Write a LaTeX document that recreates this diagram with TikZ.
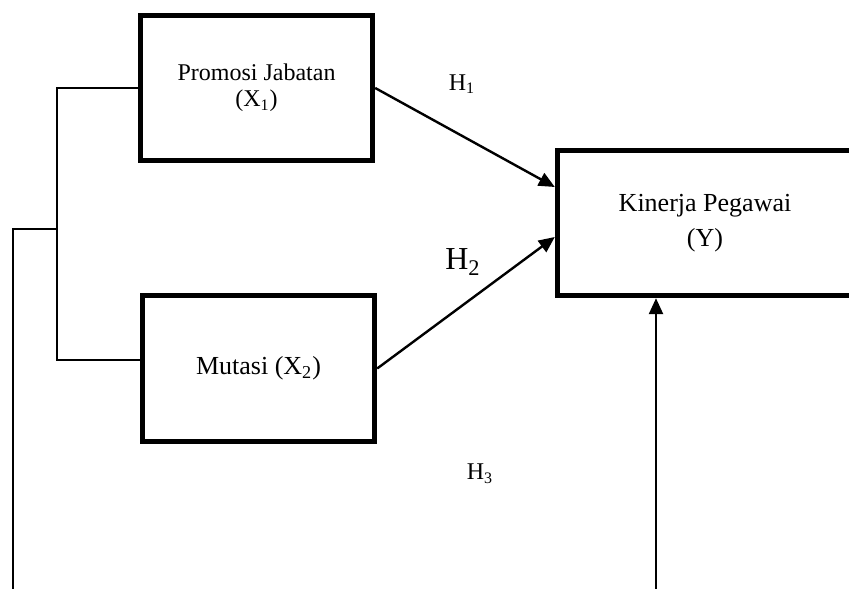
\documentclass[tikz,border=0pt]{standalone}
\usepackage{fontspec}
\setmainfont{Liberation Serif}
\usetikzlibrary{arrows.meta,calc}
\begin{document}
\begin{tikzpicture}[x=0.5pt, y=-0.5pt, line join=miter, >={Triangle[length=8pt,width=7pt]},
	box/.style={draw, line width=2.7pt, align=center, inner sep=0pt},
	thinline/.style={line width=0.8pt},
	arrowline/.style={->, line width=1.2pt}]
	\useasboundingbox (0,0) rectangle (849,588);
	\clip (0,0) rectangle (849,588);
	% variabel
	\node[box, minimum width=116pt, minimum height=72.5pt, font=\fontsize{12}{13}\selectfont] (promosi) at (256.5,88) {Promosi Jabatan\\(X\textsubscript{1})};
	\node[box, minimum width=116pt, minimum height=73pt, font=\fontsize{13}{15}\selectfont] (mutasi) at (258.5,368.5) {Mutasi (X\textsubscript{2})};
	\node[box, minimum width=147.5pt, minimum height=72.5pt, font=\fontsize{13}{17.5}\selectfont] (kinerja) at (705,223) {Kinerja Pegawai\\(Y)};
	% hipotesis
	\node[font=\fontsize{12}{14}\selectfont] (h1) at (462,84) {H\textsubscript{1}};
	\node[font=\fontsize{16}{18}\selectfont] (h2) at (463,262) {H\textsubscript{2}};
	\node[font=\fontsize{12}{14}\selectfont] (h3) at (480,474) {H\textsubscript{3}};
	% garis kurung
	\coordinate (brtop) at (57,88);
	\coordinate (brbot) at (57,360);
	\draw[thinline] (promosi.west) -- (brtop) -- (brbot) -- (brbot -| mutasi.west);
	\coordinate (outjoin) at (57,229);
	\coordinate (outcorner) at (13,229);
	\coordinate (outbot) at (13,592);
	\draw[thinline] (outjoin) -- (outcorner) -- (outbot);
	% panah
	\draw[arrowline] (promosi.east) -- ($(kinerja.west)+(0,-36)$);
	\draw[arrowline] (mutasi.east) -- ($(kinerja.west)+(0,14)$);
	\coordinate (upfoot) at (656,592);
	\draw[arrowline] (upfoot) -- (upfoot |- kinerja.south);
\end{tikzpicture}
\end{document}
